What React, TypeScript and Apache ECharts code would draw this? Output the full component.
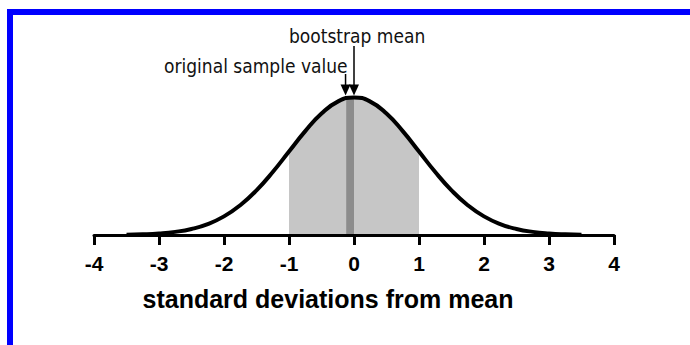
import React, { useEffect, useRef } from "react";
import * as echarts from "echarts";

// Curve (density, standard normal shape)
const CURVE_X = [-3.5, -3.25, -3, -2.75, -2.5, -2.25, -2, -1.75, -1.5, -1.25, -1, -0.75, -0.5, -0.25, 0, 0.25, 0.5, 0.75, 1, 1.25, 1.5, 1.75, 2, 2.25, 2.5, 2.75, 3, 3.25, 3.5];
const CURVE_Y = [0.0009, 0.002, 0.0044, 0.0091, 0.0175, 0.0317, 0.054, 0.0863, 0.1295, 0.1826, 0.242, 0.3011, 0.3521, 0.3867, 0.3989, 0.3867, 0.3521, 0.3011, 0.242, 0.1826, 0.1295, 0.0863, 0.054, 0.0317, 0.0175, 0.0091, 0.0044, 0.002, 0.0009];
const SHADE_RANGE = [-1, 1];
const BAND_X = [-0.12, 0];
const BAND_Y = [0.396, 0.3989];
const ARROW_X = [-0.13, 0];
const ARROW_LABELS = ["original sample value", "bootstrap mean"];
const X_TITLE = "standard deviations from mean";

const NARROW = "'DejaVu Sans Condensed', 'Liberation Sans', sans-serif";
const BOLD = "'Liberation Sans', Arial, sans-serif";

export default function App() {
  const ref = useRef<HTMLDivElement>(null);
  useEffect(() => {
    if (!ref.current) return;
    const chart = echarts.init(ref.current, undefined, { renderer: "svg" });
    const curve = CURVE_X.map((x, i) => [x, CURVE_Y[i]]);
    const shade = curve.filter((p) => p[0] >= SHADE_RANGE[0] && p[0] <= SHADE_RANGE[1]);
    const band = BAND_X.map((x, i) => [x, BAND_Y[i]]);
    chart.setOption({
      animation: false,
      grid: { left: 94, right: 76, top: 97, bottom: 110 },
      xAxis: {
        type: "value",
        min: -4,
        max: 4,
        interval: 1,
        z: 10,
        axisLine: { lineStyle: { color: "#000", width: 3 } },
        axisTick: { show: true, length: 10, lineStyle: { color: "#000", width: 3 } },
        axisLabel: { fontSize: 21, fontWeight: "bold", color: "#000", fontFamily: BOLD, margin: 18 },
        splitLine: { show: false },
      },
      yAxis: { type: "value", min: 0, max: 0.4, show: false },
      series: [
        {
          type: "line",
          data: shade,
          smooth: true,
          symbol: "none",
          lineStyle: { width: 0 },
          areaStyle: { color: "#c6c6c6", opacity: 1 },
          silent: true,
        },
        {
          type: "line",
          data: band,
          symbol: "none",
          lineStyle: { width: 0 },
          areaStyle: { color: "#8c8c8c", opacity: 1 },
          silent: true,
        },
        {
          type: "line",
          data: curve,
          smooth: true,
          symbol: "none",
          clip: false,
          lineStyle: { color: "#000", width: 4 },
          silent: true,
        },
      ],
    });
    const peak = chart.convertToPixel({ gridIndex: 0 }, [0, Math.max(...CURVE_Y)]) as number[];
    const tipY = peak[1] - 2;
    const tops = [74, 46];
    const arrows: any[] = [];
    ARROW_X.forEach((ax, i) => {
      const px = (chart.convertToPixel({ gridIndex: 0 }, [ax, 0]) as number[])[0];
      arrows.push({
        type: "line",
        shape: { x1: px, y1: tops[i], x2: px, y2: tipY - 8 },
        style: { stroke: "#000", lineWidth: 1.5 },
      });
      arrows.push({
        type: "polygon",
        shape: { points: [[px, tipY], [px - 5, tipY - 11], [px + 5, tipY - 11]] },
        style: { fill: "#000" },
      });
    });
    chart.setOption({
      graphic: [
        { type: "rect", shape: { x: 7, y: 9, width: 6, height: 340 }, style: { fill: "#0000ff" } },
        { type: "rect", shape: { x: 7, y: 9, width: 690, height: 6 }, style: { fill: "#0000ff" } },
        {
          type: "text",
          x: 164,
          y: 66,
          style: { text: ARROW_LABELS[0], fontSize: 19, fontFamily: NARROW, fill: "#111", align: "left", verticalAlign: "middle" },
        },
        {
          type: "text",
          x: 289,
          y: 36,
          style: { text: ARROW_LABELS[1], fontSize: 19, fontFamily: NARROW, fill: "#111", align: "left", verticalAlign: "middle" },
        },
        {
          type: "text",
          x: 328,
          y: 299,
          style: { text: X_TITLE, fontSize: 25, fontWeight: "bold", fontFamily: BOLD, fill: "#000", align: "center", verticalAlign: "middle" },
        },
        ...arrows,
      ],
    });
    return () => chart.dispose();
  }, []);
  return <div ref={ref} style={{ position: "absolute", left: 0, top: 0, width: 690, height: 345 }} />;
}
